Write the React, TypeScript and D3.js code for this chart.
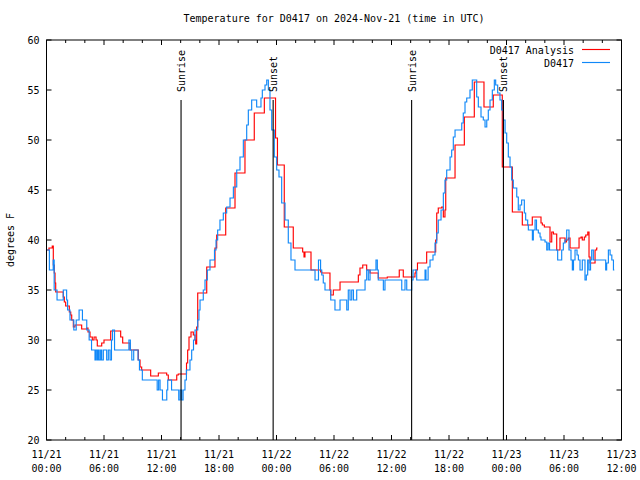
import React from "react";
import * as d3 from "d3";

// ---- data (time = hours since 2024-11-21 00:00 UTC, value = degrees F) ----
const BASE_UTC = Date.UTC(2024, 10, 21, 0, 0, 0);
const TITLE = "Temperature for D0417 on 2024-Nov-21 (time in UTC)";
const Y_LABEL = "degrees F";
const SERIES_NAMES = ["D0417 Analysis", "D0417"];
const Y_TICKS = [20, 25, 30, 35, 40, 45, 50, 55, 60];
const X_MAJOR_HOURS = [0, 6, 12, 18, 24, 30, 36, 42, 48, 54, 60];
const X_MINOR_STEP_HOURS = 2;

const sunEvents: { label: string; h: number }[] = [
  { label: "Sunrise", h: 14.04 },
  { label: "Sunset", h: 23.65 },
  { label: "Sunrise", h: 38.1 },
  { label: "Sunset", h: 47.68 },
];

const analysis: [number, number][] = [
  [0.02, 39], [0.26, 39.2], [0.6, 39.4], [0.71, 37.5], [0.81, 36.7], [0.89, 35.7], [0.96, 34.8],
  [1.75, 34.3], [1.86, 33.8], [2.0, 33.4], [2.38, 32.8], [2.53, 32.5], [2.63, 32], [2.8, 31.3],
  [2.97, 31.5], [3.67, 31.1], [4.19, 31.2], [4.33, 30.8], [4.54, 30.3], [4.78, 30], [4.96, 30.3],
  [5.17, 30], [5.3, 29.4], [5.76, 29.7], [6.0, 30], [6.7, 30.9], [7.74, 30.3], [7.95, 29.7],
  [8.71, 29], [9.58, 28], [9.76, 27.3], [9.93, 27], [10.87, 26.4], [11.67, 26.7], [12.54, 26.5],
  [12.71, 26], [13.59, 26.5], [13.75, 26.6], [14.61, 27.7], [14.73, 29], [14.87, 30.3], [15.08, 30.8],
  [15.32, 30.5], [15.5, 30], [15.57, 29.6], [15.67, 31.3], [15.78, 34.7], [16.72, 37.3], [17.58, 39.2],
  [17.76, 40.5], [18.7, 43.2], [19.67, 46.7], [20.71, 50], [21.68, 52.7], [22.73, 54.2], [23.9, 50.2],
  [24.1, 47.5], [24.81, 41.3], [25.75, 39.2], [26.73, 38.8], [26.87, 38.3], [26.97, 38.8], [27.6, 37],
  [28.61, 36.8], [28.72, 36.7], [29.58, 35], [29.66, 34.5], [29.93, 35], [30.63, 35.8], [32.54, 36.5],
  [32.71, 37.2], [33.0, 37.5], [33.41, 37], [33.76, 36.7], [34.62, 36.2], [35.56, 36.3], [36.81, 37],
  [37.23, 36.3], [38.45, 36.7], [38.55, 37], [38.71, 37.7], [39.67, 38.8], [40.61, 40], [40.72, 42.7],
  [40.88, 43.2], [41.24, 43.3], [41.41, 42.3], [41.58, 43], [41.66, 46.2], [42.63, 49.5], [43.6, 52.3],
  [44.64, 55.8], [45.65, 53.3], [46.62, 54.5], [47.56, 47.3], [48.61, 42.8], [49.65, 41.5], [50.69, 42.3],
  [51.6, 41.7], [51.74, 41.5], [51.95, 41.3], [52.54, 39.8], [52.72, 40.8], [52.9, 40.6], [53.24, 39],
  [53.58, 40.2], [54.11, 39.8], [54.26, 40], [54.45, 40.2], [54.63, 39.2], [55.57, 40.2], [55.78, 40.3],
  [55.91, 40], [56.12, 40.3], [56.27, 40.5], [56.48, 40.8], [56.61, 38.3], [56.72, 37.7], [57.24, 39],
  [57.41, 39.2], [57.5, 39.2],
];

const observed: [number, number][] = [
  [0.0, 39], [0.3, 37], [0.7, 38], [0.8, 35], [1.1, 34], [1.75, 35], [2.1, 34], [2.2, 33], [2.45, 32],
  [2.85, 31], [3.1, 32], [3.4, 33], [3.75, 32], [4.2, 31], [4.45, 30], [4.7, 29], [5.06, 28], [5.17, 29],
  [5.3, 28], [5.4, 29], [5.5, 28], [5.65, 29], [5.76, 28], [5.93, 29], [6.28, 28], [6.45, 29], [6.63, 28],
  [6.78, 30], [6.89, 31], [7.1, 29], [8.6, 30], [8.75, 29], [8.9, 28], [9.1, 29], [9.55, 28], [9.7, 27],
  [10.0, 26], [11.55, 25], [11.7, 26], [11.85, 25], [12.1, 24], [12.55, 25], [12.65, 26], [13.05, 25],
  [13.8, 24], [13.95, 25], [14.1, 24], [14.25, 25], [14.45, 26], [14.6, 27], [14.97, 28], [15.15, 29],
  [15.34, 30], [15.5, 31], [15.78, 32], [15.91, 33], [16.02, 34], [16.36, 35], [16.54, 36], [16.78, 37],
  [17.06, 38], [17.53, 39], [17.69, 40], [17.86, 41], [18.1, 42], [18.45, 42.7], [18.8, 43.3],
  [19.15, 44.2], [19.5, 45.3], [19.85, 47], [20.19, 48.3], [20.54, 50], [20.89, 51.5], [21.06, 53],
  [21.41, 54], [21.93, 53.3], [22.38, 54.2], [22.52, 55], [22.8, 55.5], [22.98, 56], [23.15, 55],
  [23.32, 53], [23.5, 51], [23.77, 48.3], [24.02, 47], [24.26, 46.3], [24.54, 43.7], [24.89, 42],
  [25.23, 39.7], [25.51, 38], [25.93, 37], [28.02, 36], [28.38, 38], [28.6, 37], [28.72, 36.5],
  [28.88, 35.7], [29.06, 35], [29.66, 34], [30.1, 33], [30.63, 34], [31.33, 33], [31.49, 35], [31.67, 34],
  [31.85, 35], [32.03, 34], [32.37, 35], [33.24, 36], [33.41, 37], [33.58, 36], [33.76, 37], [34.38, 38],
  [34.52, 37], [34.62, 36], [35.15, 35], [35.32, 36], [37.07, 35], [37.41, 36], [37.59, 35], [38.11, 36],
  [38.25, 37], [38.63, 36], [39.5, 37], [39.6, 36], [39.82, 37.3], [40.02, 38], [40.33, 38.5],
  [40.54, 39.7], [40.72, 40.7], [40.88, 42], [41.17, 43], [41.41, 44.7], [41.58, 46], [41.76, 47],
  [42.11, 48.3], [42.28, 49], [42.45, 50.3], [42.63, 51], [43.33, 51.7], [43.49, 52.7], [43.67, 53.8],
  [43.85, 54.2], [44.19, 55], [44.43, 56], [44.89, 54.3], [45.06, 53.3], [45.34, 52.3], [45.58, 52],
  [45.76, 51.3], [45.94, 52], [46.1, 53], [46.28, 54], [46.52, 55], [46.73, 56], [46.87, 55.5],
  [47.08, 54.7], [47.32, 54], [47.5, 53], [47.67, 52], [47.85, 50.7], [48.02, 49.7], [48.19, 48.3],
  [48.37, 47.3], [48.54, 46], [48.71, 45.2], [49.07, 44.3], [49.23, 43], [49.41, 43.5], [49.58, 44],
  [49.86, 42.7], [50.0, 42], [50.21, 41.5], [50.28, 41], [50.7, 40], [50.8, 41], [50.98, 42], [51.13, 41],
  [51.32, 40.7], [51.5, 40.3], [51.6, 40], [52.02, 39.8], [52.2, 39], [52.34, 39.7], [52.49, 39],
  [53.34, 38], [53.76, 39], [53.93, 39.7], [54.11, 40], [54.28, 41], [54.52, 39], [54.73, 38], [54.87, 37],
  [54.99, 38], [55.15, 39], [55.36, 38.5], [55.5, 38], [55.67, 37], [55.91, 38], [56.19, 36], [56.33, 36.5],
  [56.47, 38], [56.61, 37], [56.77, 38], [56.89, 39], [57.06, 38], [58.35, 37], [58.45, 37.7], [58.63, 39],
  [58.81, 38.5], [58.99, 38], [59.16, 37], [59.25, 37],
];

// ---- layout ----
const W = 640;
const H = 480;
const M = { left: 46.5, right: 621.5, top: 40, bottom: 440 };
const FONT = "'DejaVu Sans Mono', monospace";
const RED = "#ff0000";
const BLUE = "#1088f8";

const toDate = (h: number) => new Date(BASE_UTC + h * 3600 * 1000);

export default function App() {
  const x = d3
    .scaleUtc()
    .domain([toDate(X_MAJOR_HOURS[0]), toDate(X_MAJOR_HOURS[X_MAJOR_HOURS.length - 1])])
    .range([M.left, M.right]);
  const y = d3.scaleLinear().domain([20, 60]).range([M.bottom, M.top]);

  const line = d3
    .line<[number, number]>()
    .x((d) => x(toDate(d[0])))
    .y((d) => y(d[1]))
    .curve(d3.curveStepAfter);

  const fmtDay = d3.utcFormat("%m/%d");
  const fmtTime = d3.utcFormat("%H:%M");

  const minorHours: number[] = [];
  for (let h = X_MAJOR_HOURS[0]; h <= X_MAJOR_HOURS[X_MAJOR_HOURS.length - 1]; h += X_MINOR_STEP_HOURS) {
    if (!X_MAJOR_HOURS.includes(h)) minorHours.push(h);
  }

  return (
    <svg
      width={W}
      height={H}
      style={{ position: "fixed", left: 0, top: 0, background: "#fff" }}
      fontFamily={FONT}
      fontSize={10}
    >
      <rect x={0} y={0} width={W} height={H} fill="#fff" />
      <text x={(M.left + M.right) / 2} y={22} textAnchor="middle">
        {TITLE}
      </text>

      {/* y ticks and labels */}
      {Y_TICKS.map((t) => (
        <g key={"y" + t}>
          <line x1={M.left} x2={M.left + 5} y1={y(t)} y2={y(t)} stroke="#000" />
          <line x1={M.right} x2={M.right - 5} y1={y(t)} y2={y(t)} stroke="#000" />
          <text x={39.5} y={y(t) + 3.5} textAnchor="end">
            {t}
          </text>
        </g>
      ))}

      {/* x ticks */}
      {X_MAJOR_HOURS.map((h) => {
        const xx = x(toDate(h));
        return (
          <g key={"x" + h}>
            <line x1={xx} x2={xx} y1={M.bottom} y2={M.bottom - 5} stroke="#000" />
            <line x1={xx} x2={xx} y1={M.top} y2={M.top + 5} stroke="#000" />
            <text x={xx} y={458} textAnchor="middle">
              {fmtDay(toDate(h))}
            </text>
            <text x={xx} y={471.5} textAnchor="middle">
              {fmtTime(toDate(h))}
            </text>
          </g>
        );
      })}
      {minorHours.map((h) => {
        const xx = x(toDate(h));
        return (
          <g key={"m" + h}>
            <line x1={xx} x2={xx} y1={M.bottom} y2={M.bottom - 3} stroke="#000" />
            <line x1={xx} x2={xx} y1={M.top} y2={M.top + 3} stroke="#000" />
          </g>
        );
      })}

      <text transform={`translate(14,240) rotate(-90)`} textAnchor="middle">
        {Y_LABEL}
      </text>

      {/* data */}
      <path d={line(analysis) || ""} fill="none" stroke={RED} strokeWidth={1.15} />
      <path d={line(observed) || ""} fill="none" stroke={BLUE} strokeWidth={1.15} />

      {/* sunrise / sunset */}
      {sunEvents.map((e, i) => {
        const xx = x(toDate(e.h));
        return (
          <g key={"s" + i}>
            <line x1={xx} x2={xx} y1={100} y2={M.bottom} stroke="#000" strokeWidth={1.1} />
            <text transform={`translate(${xx + 4},92) rotate(-90)`} textAnchor="start">
              {e.label}
            </text>
          </g>
        );
      })}

      {/* legend */}
      <text x={574} y={54} textAnchor="end">
        {SERIES_NAMES[0]}
      </text>
      <line x1={582} x2={610} y1={49.5} y2={49.5} stroke={RED} strokeWidth={1.15} />
      <text x={574} y={67} textAnchor="end">
        {SERIES_NAMES[1]}
      </text>
      <line x1={582} x2={610} y1={62.5} y2={62.5} stroke={BLUE} strokeWidth={1.15} />

      {/* border */}
      <rect
        x={M.left}
        y={M.top}
        width={M.right - M.left}
        height={M.bottom - M.top}
        fill="none"
        stroke="#000"
        strokeWidth={1}
      />
    </svg>
  );
}
